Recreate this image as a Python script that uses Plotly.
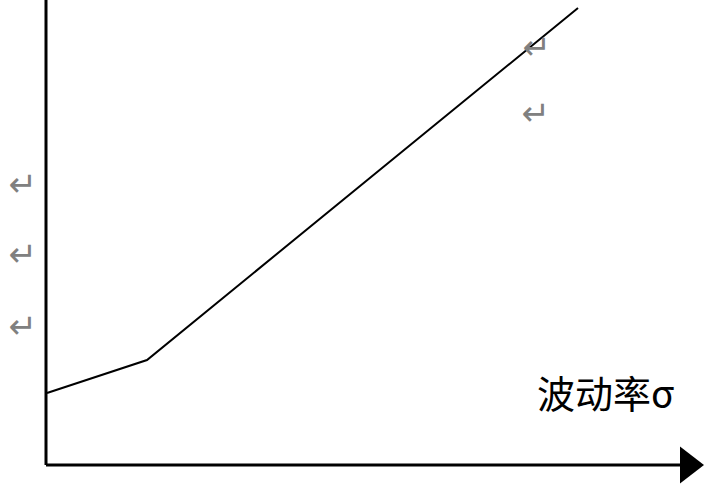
import plotly.graph_objects as go

# curve: volatility (x) vs value (y), one unit = ten pixels on screen
curve_x = [0.1, 10.1, 53.2]
curve_y = [7.2, 10.5, 45.7]

# axes extents
y_axis_top = 47.0
x_axis_end = 63.6
arrow_x = 64.2

# paragraph marks (Word "↵") left in the picture
mark_x = [-2.3, -2.3, -2.3, 49.1, 49.0]
mark_y = [27.8, 20.8, 13.6, 41.5, 34.9]

label_text = "波动率σ"
label_x = 48.9
label_y = 7.4

fig = go.Figure()

# vertical axis
fig.add_trace(go.Scatter(x=[0, 0], y=[0, y_axis_top], mode="lines",
                         line=dict(color="black", width=3), hoverinfo="skip"))
# horizontal axis
fig.add_trace(go.Scatter(x=[0, x_axis_end], y=[0, 0], mode="lines",
                         line=dict(color="black", width=3), hoverinfo="skip"))
# arrow head
fig.add_trace(go.Scatter(x=[arrow_x], y=[0], mode="markers", cliponaxis=False,
                         marker=dict(symbol="triangle-right", size=32, color="black",
                                     line=dict(width=0)), hoverinfo="skip"))
# curve
fig.add_trace(go.Scatter(x=curve_x, y=curve_y, mode="lines",
                         line=dict(color="black", width=2), hoverinfo="skip"))
# paragraph marks
fig.add_trace(go.Scatter(x=mark_x, y=mark_y, mode="text", text=["↵"] * len(mark_x),
                         textfont=dict(family="DejaVu Sans", size=34, color="#808080"),
                         textposition="middle center", hoverinfo="skip"))

fig.add_annotation(x=label_x, y=label_y, xref="x", yref="y", text=label_text,
                   showarrow=False, xanchor="left", yanchor="middle",
                   font=dict(family="Noto Sans CJK SC", size=38, color="black"))

fig.update_layout(
    width=705, height=486,
    margin=dict(l=0, r=0, t=0, b=0),
    paper_bgcolor="white", plot_bgcolor="white",
    showlegend=False,
    xaxis=dict(range=[-4.6, 65.9], visible=False, fixedrange=True),
    yaxis=dict(range=[-2.1, 46.5], visible=False, fixedrange=True),
)

fig.write_html("out.html", config={"displayModeBar": False, "staticPlot": True},
               post_script="document.body.style.margin='0';document.body.style.padding='0';")
